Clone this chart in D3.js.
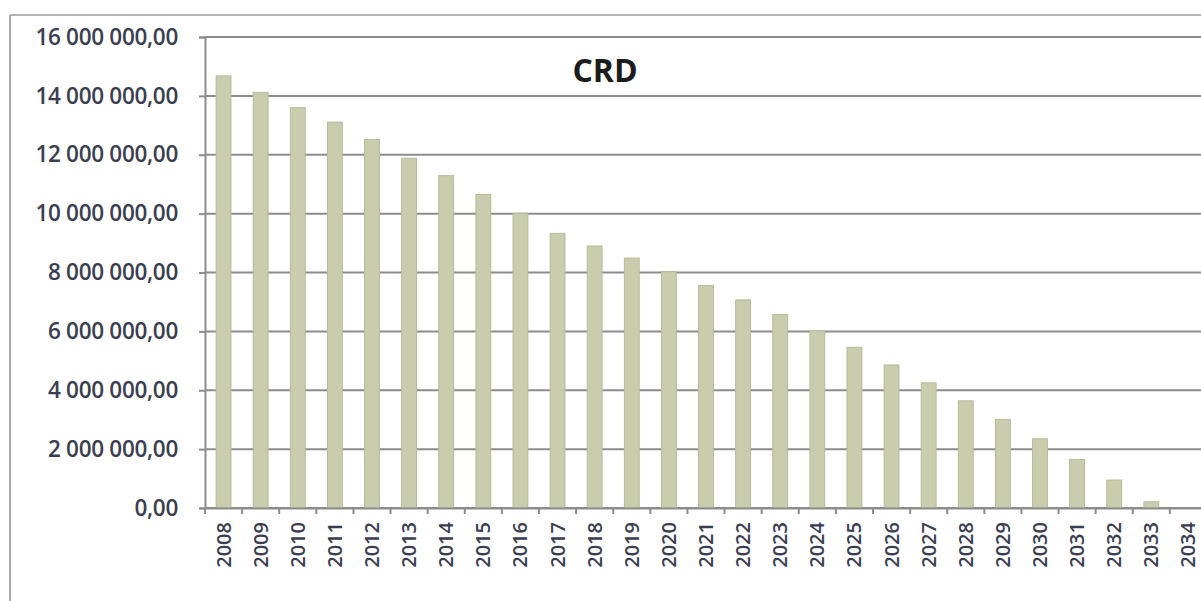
<!DOCTYPE html>
<html>
<head>
<meta charset="utf-8">
<script src="https://cdn.jsdelivr.net/npm/d3@7"></script>
<style>
  body { margin: 0; background: #fff; }
  svg { display: block; }
</style>
</head>
<body>
<div id="chart"></div>
<script>
// Données (capital restant dû)
const annees = ["2008", "2009", "2010", "2011", "2012", "2013", "2014", "2015", "2016",
  "2017", "2018", "2019", "2020", "2021", "2022", "2023", "2024", "2025", "2026",
  "2027", "2028", "2029", "2030", "2031", "2032", "2033", "2034"];
const crd = [14680000, 14120000, 13600000, 13110000, 12520000, 11880000, 11290000, 10650000,
  10010000, 9330000, 8900000, 8490000, 8030000, 7560000, 7070000, 6570000, 6020000,
  5460000, 4860000, 4250000, 3640000, 3010000, 2350000, 1650000, 950000, 210000, 0];
const graduations = [0, 2000000, 4000000, 6000000, 8000000, 10000000, 12000000, 14000000, 16000000];
const titre = "CRD";

const width = 1201;
const height = 601;
const marginLeft = 205;
const marginTop = 37;
const plotBottom = 508;
const plotRight = 1207; // le graphique dépasse du cadre à droite

const locale = d3.formatLocale({ decimal: ",", thousands: "\u00a0", grouping: [3], currency: ["", "€"] });
const fmt = locale.format(",.2f");

const svg = d3.select("#chart").append("svg")
  .attr("width", width)
  .attr("height", height);

// Cadre extérieur
svg.append("line").attr("x1", 10).attr("x2", width).attr("y1", 15).attr("y2", 15)
  .attr("stroke", "#b4b4b4").attr("stroke-width", 2);
svg.append("line").attr("x1", 10).attr("x2", 10).attr("y1", 15).attr("y2", height)
  .attr("stroke", "#a8a8a8").attr("stroke-width", 2);

const x = d3.scaleBand().domain(annees).range([marginLeft, plotRight])
  .paddingInner(0.6).paddingOuter(0.3);
const y = d3.scaleLinear().domain([0, 16000000]).range([plotBottom, marginTop]);

// Grille horizontale
svg.append("g")
  .selectAll("line")
  .data(graduations)
  .join("line")
  .attr("x1", marginLeft)
  .attr("x2", plotRight)
  .attr("y1", d => y(d))
  .attr("y2", d => y(d))
  .attr("stroke", "#8c8c8c")
  .attr("stroke-width", 2);

// Barres
svg.append("g")
  .selectAll("rect")
  .data(crd)
  .join("rect")
  .attr("x", (d, i) => x(annees[i]))
  .attr("y", d => y(d))
  .attr("width", x.bandwidth())
  .attr("height", d => y(0) - y(d))
  .attr("fill", "#c9ccad")
  .attr("stroke", "#b7bb98")
  .attr("stroke-width", 1);

// Axe Y
const axeY = svg.append("g")
  .attr("transform", `translate(${marginLeft},0)`)
  .call(d3.axisLeft(y).tickValues(graduations).tickFormat(fmt).tickSize(6).tickPadding(21));
axeY.select(".domain").attr("stroke", "#8c8c8c").attr("stroke-width", 2);
axeY.selectAll(".tick line").attr("stroke", "#8c8c8c").attr("stroke-width", 2);
axeY.selectAll("text")
  .attr("fill", "#3b3e50")
  .style("font-family", "'Open Sans', sans-serif")
  .style("font-size", "22.5px")
  .style("font-weight", 600)
  .style("letter-spacing", "-0.3px");

// Axe X
const axeX = svg.append("g")
  .attr("transform", `translate(0,${plotBottom})`)
  .call(d3.axisBottom(x).tickSize(0).tickPadding(14));
axeX.select(".domain").attr("stroke", "#8c8c8c").attr("stroke-width", 2);
axeX.selectAll("text")
  .attr("transform", "rotate(-90)")
  .attr("text-anchor", "end")
  .attr("dx", "-14px")
  .attr("dy", "0.35em")
  .attr("y", 0)
  .attr("fill", "#3b3e50")
  .style("font-family", "'Open Sans', sans-serif")
  .style("font-size", "20px")
  .style("font-weight", 600);

// Petites graduations entre les catégories
svg.append("g")
  .selectAll("line")
  .data(annees)
  .join("line")
  .attr("x1", d => x(d) - x.step() * 0.3)
  .attr("x2", d => x(d) - x.step() * 0.3)
  .attr("y1", plotBottom)
  .attr("y2", plotBottom + 6)
  .attr("stroke", "#8c8c8c")
  .attr("stroke-width", 2);

// Titre
svg.append("text")
  .attr("x", 605)
  .attr("y", 82)
  .attr("text-anchor", "middle")
  .attr("fill", "#1c1c1c")
  .style("font-family", "'Open Sans', sans-serif")
  .style("font-size", "32px")
  .style("font-weight", 700)
  .text(titre);
</script>
</body>
</html>
